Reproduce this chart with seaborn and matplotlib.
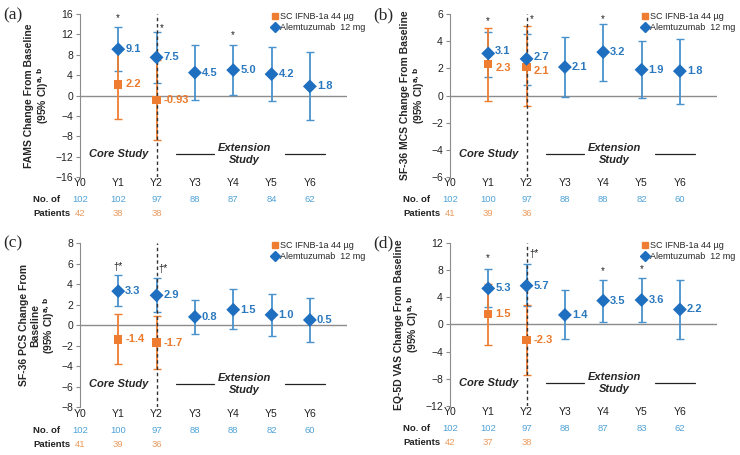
import numpy as np
import pandas as pd
import seaborn as sns
import matplotlib.pyplot as plt
from matplotlib.lines import Line2D
import matplotlib.transforms as mtrans

years = ["Y0", "Y1", "Y2", "Y3", "Y4", "Y5", "Y6"]
alem_x = [1, 2, 3, 4, 5, 6]
ifnb_x = [1, 2]

# (a) FAMS
fams_alem = [9.1, 7.5, 4.5, 5.0, 4.2, 1.8]
fams_alem_lo = [4.8, 2.5, -0.8, 0.1, -1.1, -4.8]
fams_alem_hi = [13.4, 12.5, 9.9, 10.0, 9.6, 8.5]
fams_ifnb = [2.2, -0.93]
fams_ifnb_lo = [-4.7, -8.8]
fams_ifnb_hi = [9.1, 6.9]
fams_n_alem = [102, 102, 97, 88, 87, 84, 62]
fams_n_ifnb = [42, 38, 38]

# (b) SF-36 MCS
mcs_alem = [3.1, 2.7, 2.1, 3.2, 1.9, 1.8]
mcs_alem_lo = [1.4, 0.8, -0.1, 1.1, -0.2, -0.6]
mcs_alem_hi = [4.7, 4.5, 4.3, 5.3, 4.0, 4.2]
mcs_ifnb = [2.3, 2.1]
mcs_ifnb_lo = [-0.4, -0.8]
mcs_ifnb_hi = [4.95, 5.1]
mcs_n_alem = [102, 100, 97, 88, 88, 82, 60]
mcs_n_ifnb = [41, 39, 36]

# (c) SF-36 PCS
pcs_alem = [3.3, 2.9, 0.8, 1.5, 1.0, 0.5]
pcs_alem_lo = [1.9, 1.3, -0.9, -0.4, -1.1, -1.6]
pcs_alem_hi = [4.9, 4.6, 2.4, 3.5, 3.0, 2.6]
pcs_ifnb = [-1.4, -1.7]
pcs_ifnb_lo = [-3.8, -4.3]
pcs_ifnb_hi = [1.1, 0.9]
pcs_n_alem = [102, 100, 97, 88, 88, 82, 60]
pcs_n_ifnb = [41, 39, 36]

# (d) EQ-5D VAS
vas_alem = [5.3, 5.7, 1.4, 3.5, 3.6, 2.2]
vas_alem_lo = [2.5, 2.7, -2.1, 0.4, 0.3, -2.1]
vas_alem_hi = [8.1, 8.9, 5.0, 6.6, 6.9, 6.6]
vas_ifnb = [1.5, -2.3]
vas_ifnb_lo = [-3.0, -7.4]
vas_ifnb_hi = [6.0, 2.8]
vas_n_alem = [102, 102, 97, 88, 87, 83, 62]
vas_n_ifnb = [42, 37, 38]

BLUE = "#1f6fc0"
BLUE_BAR = "#4a92cc"
BLUE_TXT = "#2a78be"
ORANGE = "#ee7d31"
ORANGE_TXT = "#ec7a2c"
N_BLUE = "#4fa2d6"
N_ORANGE = "#eb9a5c"

sns.set_style("white")
plt.rcParams["font.family"] = ["Liberation Sans", "DejaVu Sans"]

fig = plt.figure(figsize=(7.4, 4.55), dpi=100)


def draw_panel(ax, tag, ylabel, ymax, step,
               a_m, a_lo, a_hi, i_m, i_lo, i_hi, n_a, n_i, sig):
    a_m = np.array(a_m); i_m = np.array(i_m)
    ax.errorbar(alem_x, a_m, yerr=[a_m - np.array(a_lo), np.array(a_hi) - a_m],
                fmt="none", ecolor=BLUE_BAR, elinewidth=1.3, capsize=3, zorder=2)
    ax.errorbar(ifnb_x, i_m, yerr=[i_m - np.array(i_lo), np.array(i_hi) - i_m],
                fmt="none", ecolor=ORANGE, elinewidth=1.3, capsize=3, zorder=3)
    ax.axvline(2, color="#333333", lw=1.0, ls=(0, (2.5, 2)), zorder=4)
    sns.scatterplot(x=ifnb_x, y=i_m, marker="s", s=36, color=ORANGE,
                    edgecolor="none", ax=ax, zorder=5)
    sns.scatterplot(x=alem_x, y=a_m, marker="D", s=50, color=BLUE,
                    edgecolor="none", ax=ax, zorder=6)

    # value labels; nudge apart when the two groups sit close together
    span = 2.0 * ymax / 163.0  # data units per pixel (approx.)
    for x, v in zip(alem_x, a_m):
        dy = 0
        if x in ifnb_x:
            other = i_m[ifnb_x.index(x)]
            if abs(v - other) * 1.0 / span < 11:
                dy = 1.5
        ax.annotate(str(v), (x, v), xytext=(5, dy), textcoords="offset points",
                    ha="left", va="center", fontsize=8, fontweight="bold",
                    color=BLUE_TXT, zorder=7)
    for x, v in zip(ifnb_x, i_m):
        other = a_m[alem_x.index(x)]
        dy = -2.5 if abs(v - other) / span < 11 else 0
        ax.annotate(str(v), (x, v), xytext=(5, dy), textcoords="offset points",
                    ha="left", va="center", fontsize=8, fontweight="bold",
                    color=ORANGE_TXT, zorder=7)
    for sx, sy, st in sig:
        ax.text(sx, sy, st, ha="center", va="center", fontsize=7, color="#222222")

    ax.axhline(0, color="#8c8c8c", lw=1.0, zorder=1)
    ax.set_xlim(0, 6.97)
    ax.set_ylim(-ymax, ymax)
    ax.set_yticks(np.arange(-ymax, ymax + step / 2, step))
    ax.set_xticks(range(7))
    ax.set_xticklabels(years)
    ax.tick_params(axis="x", length=0, pad=1, labelsize=7.5, colors="#222222")
    ax.tick_params(axis="y", length=3, width=0.8, direction="out", left=True,
                   labelsize=7.5, colors="#222222", color="#8c8c8c", pad=2)
    for s in ["top", "right", "bottom"]:
        ax.spines[s].set_visible(False)
    ax.spines["left"].set_color("#8c8c8c")
    ax.set_ylabel(ylabel, fontsize=7.5, fontweight="bold", labelpad=3,
                  linespacing=1.1)

    # study phases
    tr = mtrans.blended_transform_factory(ax.transData, ax.transAxes)
    ax.text(1.0, 0.14, "Core Study", transform=tr,
            ha="center", va="center", fontsize=8, fontweight="bold", style="italic")
    ax.text(4.3, 0.14, "Extension\nStudy", transform=tr,
            ha="center", va="center", fontsize=8, fontweight="bold", style="italic",
            linespacing=1.2)
    ax.plot([2.5, 3.5], [0.14, 0.14], color="#222222", lw=0.9, transform=tr)
    ax.plot([5.35, 6.4], [0.14, 0.14], color="#222222", lw=0.9, transform=tr)

    # patient counts
    for x, n in enumerate(n_a):
        ax.text(x, -0.14, str(n), transform=tr, ha="center", va="center",
                fontsize=6.8, color=N_BLUE)
    for x, n in enumerate(n_i):
        ax.text(x, -0.225, str(n), transform=tr, ha="center", va="center",
                fontsize=6.8, color=N_ORANGE)
    ax.text(-0.176, -0.14, "No. of", transform=ax.transAxes, ha="left",
            va="center", fontsize=6.8, fontweight="bold", color="#222222")
    ax.text(-0.176, -0.225, "Patients", transform=ax.transAxes, ha="left",
            va="center", fontsize=6.8, fontweight="bold", color="#222222")

    handles = [Line2D([], [], marker="s", ls="none", color=ORANGE, ms=5),
               Line2D([], [], marker="D", ls="none", color=BLUE, ms=5)]
    ax.legend(handles, ["SC IFNB-1a 44 µg", "Alemtuzumab  12 mg"],
              loc="upper left", bbox_to_anchor=(0.72, 1.01), frameon=False,
              fontsize=6.5, handlelength=0.6, handletextpad=0.3,
              labelspacing=0.15, borderpad=0, borderaxespad=0)

    pos = ax.get_position()
    fig.text(pos.x0 - 0.103, pos.y1 - 0.002, tag, ha="left", va="center",
             fontsize=12.5, family="Liberation Serif")


sup = r"$^{\mathbf{a,b}}$"
ax_a = fig.add_axes([0.108, 0.611, 0.361, 0.358])
draw_panel(ax_a, "(a)", "FAMS Change From Baseline\n(95% CI)" + sup, 16, 4,
           fams_alem, fams_alem_lo, fams_alem_hi,
           fams_ifnb, fams_ifnb_lo, fams_ifnb_hi, fams_n_alem, fams_n_ifnb,
           [(1, 15.2, "*"), (2.13, 13.2, "*"), (4, 11.8, "*")])

ax_b = fig.add_axes([0.608, 0.611, 0.361, 0.358])
draw_panel(ax_b, "(b)", "SF-36 MCS Change From Baseline\n(95% CI)" + sup, 6, 2,
           mcs_alem, mcs_alem_lo, mcs_alem_hi,
           mcs_ifnb, mcs_ifnb_lo, mcs_ifnb_hi, mcs_n_alem, mcs_n_ifnb,
           [(1, 5.5, "*"), (2.13, 5.6, "*"), (4, 5.6, "*")])

ax_c = fig.add_axes([0.108, 0.105, 0.361, 0.361])
draw_panel(ax_c, "(c)", "SF-36 PCS Change From\nBaseline\n(95% CI)" + sup, 8, 2,
           pcs_alem, pcs_alem_lo, pcs_alem_hi,
           pcs_ifnb, pcs_ifnb_lo, pcs_ifnb_hi, pcs_n_alem, pcs_n_ifnb,
           [(1, 5.7, "†*"), (2.18, 5.5, "†*")])

ax_d = fig.add_axes([0.608, 0.108, 0.361, 0.358])
draw_panel(ax_d, "(d)", "EQ-5D VAS Change From Baseline\n(95% CI)" + sup, 12, 4,
           vas_alem, vas_alem_lo, vas_alem_hi,
           vas_ifnb, vas_ifnb_lo, vas_ifnb_hi, vas_n_alem, vas_n_ifnb,
           [(1, 9.8, "*"), (2.2, 10.4, "†*"), (4, 7.9, "*"), (5, 8.1, "*")])

fig.savefig("out.png", dpi=100)
